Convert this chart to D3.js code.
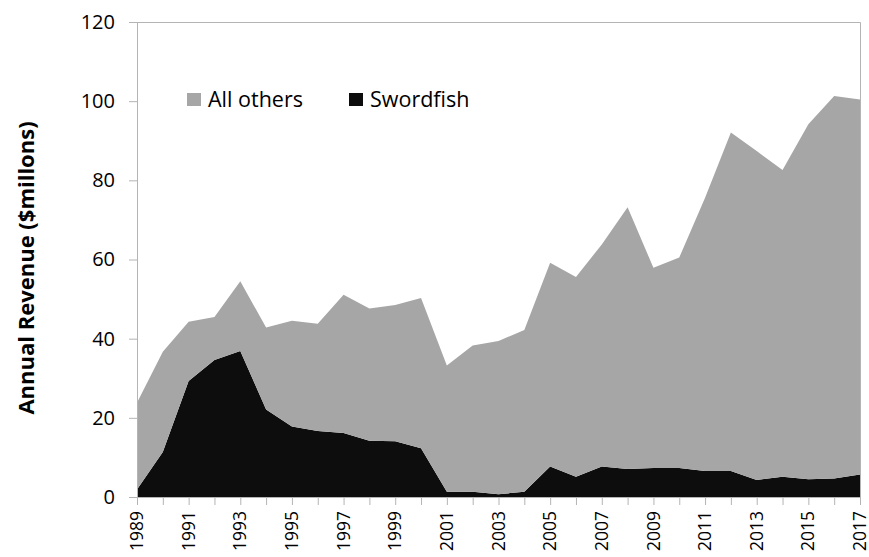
<!DOCTYPE html>
<html lang="en">

<head>
    <meta charset="UTF-8">
    <title>Annual Revenue</title>
    <style>
        body {
            margin: 0;
            background: #fff;
        }

        svg,
        svg text {
            font-family: "Open Sans", sans-serif;
        }

        .tick text {
            fill: #000;
        }
    </style>
</head>

<body>
    <div id="chart"></div>

    <script src="https://d3js.org/d3.v7.min.js"></script>
    <script>
        // values ($ millions)
        var years = [1989, 1990, 1991, 1992, 1993, 1994, 1995, 1996, 1997, 1998, 1999, 2000, 2001, 2002,
            2003, 2004, 2005, 2006, 2007, 2008, 2009, 2010, 2011, 2012, 2013, 2014, 2015, 2016, 2017];
        var swordfish = [1.9, 11.4, 29.3, 34.6, 36.9, 22.1, 17.8, 16.7, 16.2, 14.2, 14.1, 12.3, 1.3, 1.3,
            0.7, 1.3, 7.7, 5.1, 7.7, 7.1, 7.3, 7.3, 6.6, 6.6, 4.3, 5.1, 4.5, 4.7, 5.7];
        var allOthers = [21.9, 25.3, 15.0, 10.9, 17.6, 20.7, 26.7, 27.1, 34.9, 33.4, 34.4, 38.0, 31.9, 37.0,
            38.7, 40.9, 51.5, 50.5, 56.1, 66.1, 50.6, 53.2, 69.0, 85.5, 83.1, 77.5, 89.7, 96.6, 94.7];
        var seriesNames = ["All others", "Swordfish"];
        var yTicks = [0, 20, 40, 60, 80, 100, 120];

        var width = 869, height = 557;
        var margin = { top: 22, right: 9, bottom: 60, left: 137 };
        var w = width - margin.left - margin.right,
            h = height - margin.top - margin.bottom;

        var rows = years.map(function (yr, i) {
            return { year: yr, "Swordfish": swordfish[i], "All others": allOthers[i] };
        });

        var stack = d3.stack().keys(["Swordfish", "All others"]);
        var layers = stack(rows);

        var colors = { "All others": "#a6a6a6", "Swordfish": "#0d0d0d" };

        var svg = d3.select("#chart").append("svg")
            .attr("width", width)
            .attr("height", height);

        var g = svg.append("g")
            .attr("transform", "translate(" + margin.left + "," + margin.top + ")");

        var x = d3.scaleLinear().domain([1989, 2017]).range([0, w]);
        var y = d3.scaleLinear().domain([0, 120]).range([h, 0]);

        var area = d3.area()
            .x(function (d) { return x(d.data.year); })
            .y0(function (d) { return y(d[0]); })
            .y1(function (d) { return y(d[1]); });

        g.selectAll("path.layer")
            .data(layers)
            .enter().append("path")
            .attr("class", "layer")
            .attr("fill", function (d) { return colors[d.key]; })
            .attr("d", area);

        // frame on top and right
        g.append("path")
            .attr("d", "M0,0.5H" + (w + 0.5) + "V" + h)
            .attr("fill", "none")
            .attr("stroke", "#b4b4b4");

        var yAxis = g.append("g")
            .call(d3.axisLeft(y).tickValues(yTicks).tickSize(8).tickPadding(14));
        yAxis.selectAll("text").style("font-size", "20px");

        var xAxis = g.append("g")
            .attr("transform", "translate(0," + h + ")")
            .call(d3.axisBottom(x).tickValues(years).tickSize(8).tickFormat(function (d) {
                return (d - 1989) % 2 === 0 ? d : "";
            }));
        xAxis.selectAll("text")
            .style("font-size", "17.5px")
            .attr("text-anchor", "end")
            .attr("transform", "rotate(-90)")
            .attr("x", -14)
            .attr("y", 0)
            .attr("dy", "0.32em");

        svg.selectAll(".domain, .tick line").attr("stroke", "#b4b4b4");

        // y title
        svg.append("text")
            .attr("transform", "translate(34,268) rotate(-90)")
            .attr("text-anchor", "middle")
            .style("font-size", "22px")
            .style("font-weight", "bold")
            .text("Annual Revenue ($millons)");

        // legend
        var legend = svg.append("g").attr("transform", "translate(187,93)");
        var legendX = [0, 162];
        seriesNames.forEach(function (name, i) {
            var item = legend.append("g").attr("transform", "translate(" + legendX[i] + ",0)");
            item.append("rect")
                .attr("width", 14)
                .attr("height", 13)
                .attr("fill", colors[name]);
            item.append("text")
                .attr("x", 21)
                .attr("y", 14)
                .style("font-size", "21.5px")
                .text(name);
        });
    </script>
</body>

</html>
